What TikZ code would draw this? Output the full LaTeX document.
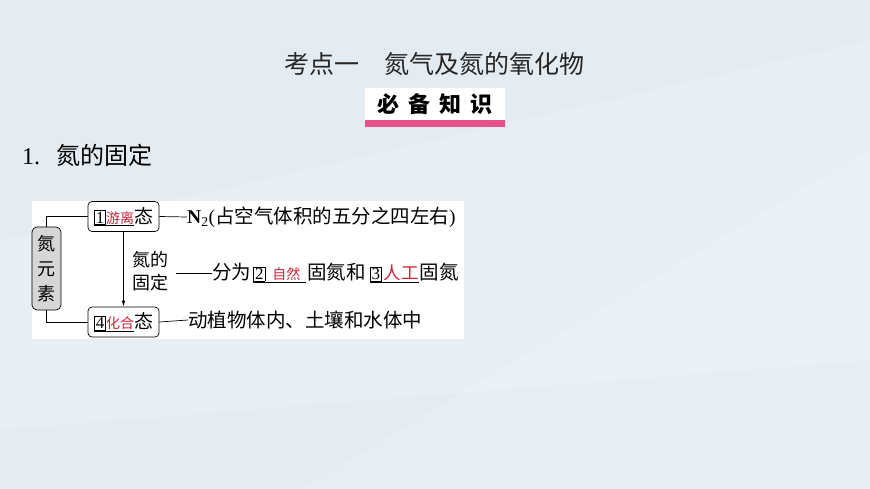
\documentclass[tikz,border=0pt]{standalone}
\usepackage{fontspec}
\usepackage[svgnames]{xcolor}
\usepackage{tikz}
\usetikzlibrary{calc}
\usetikzlibrary{arrows.meta}
\newfontfamily\cjk{Noto Sans CJK SC}
\newfontfamily\numfont{Liberation Serif}
\definecolor{bgbase}{RGB}{228,236,242}
\definecolor{ansred}{RGB}{205,35,55}
\definecolor{barpink}{RGB}{228,82,140}
\definecolor{elemgray}{RGB}{214,214,214}
\newcommand{\numbox}[1]{{\setlength{\fboxsep}{1pt}\setlength{\fboxrule}{0.8pt}%
  \fbox{\numfont\fontsize{17}{17}\selectfont#1}}}
\newcommand{\blankans}[3]{{\setbox0=\hbox{\numbox{#1}\textcolor{ansred}{\fontsize{#2}{#2}\selectfont #3}}%
  \rlap{\raisebox{-3pt}{\rule{\wd0}{0.6pt}}}\box0}}

\begin{document}
\begin{tikzpicture}[x=1pt,y=-1pt,
    font=\cjk,inner sep=0pt,
    stateb/.style={draw=black,line width=0.7pt,rounded corners=4pt,fill=white,
      minimum width=71pt,minimum height=30pt,font=\cjk\fontsize{19}{19}\selectfont},
    elemb/.style={draw=black,line width=0.7pt,rounded corners=5pt,fill=elemgray,
      minimum width=29pt,minimum height=83pt,align=center,font=\cjk\fontsize{18}{25}\selectfont},
    txtn/.style={anchor=west,font=\cjk\fontsize{19.5}{19.5}\selectfont},
    link/.style={draw=black,line width=0.7pt}]
  \useasboundingbox (0,0) rectangle (870,489);
  \fill[bgbase] (0,0) rectangle (870,489);
  \fill[white,opacity=0.18] (0,240) -- (870,40) -- (870,360) -- (0,430) -- cycle;
  \fill[white,opacity=0.12] (300,489) -- (870,150) -- (870,489) -- cycle;
  \fill[white] (32,201) rectangle (464,339);

  \node[font=\cjk\fontsize{25}{25}\selectfont,text=black!85] (title) at (434,64)
    {考点一\hspace{1em}氮气及氮的氧化物};
  \node[fill=white,minimum width=140pt,minimum height=32pt,
    font=\cjk\bfseries\fontsize{22}{22}\selectfont] (badge) at (435,104)
    {必\hspace{9pt}备\hspace{9pt}知\hspace{9pt}识};
  \fill[barpink] (badge.south west) rectangle ([yshift=-7pt]badge.south east);
  \node[anchor=west,font=\cjk\fontsize{24}{24}\selectfont] (heading) at (22,155)
    {{\numfont 1.}\hspace{16pt}氮的固定};

  \node[elemb] (elem) at (46.5,268.5) {氮\\元\\素};
  \node[stateb] (free) at (123.5,216.5) {\blankans{1}{14}{游离}态};
  \node[stateb] (comb) at (123.5,322) {\blankans{4}{14}{化合}态};
  \node[font=\cjk\fontsize{18}{23}\selectfont,align=center] (fix) at (150,271.5) {氮的\\固定};
  \node[txtn] (freetxt) at (187,217)
    {{\numfont\bfseries N}{\numfont\textsubscript{2}(}占空气体积的五分之四左右{\numfont )}};
  \node[txtn] (fixtxt) at (212,273)
    {分为\hspace{2pt}\blankans{2}{14}{\hspace{7pt}自然\hspace{6pt}}\hspace{1pt}固氮和\hspace{4pt}\blankans{3}{17.5}{\hspace{2pt}人工}\hspace{1pt}固氮};
  \node[txtn] (combtxt) at (188,320) {动植物体内、土壤和水体中};

  \draw[link] (elem.north) |- (free.west);
  \draw[link] (elem.south) |- (comb.west);
  \draw[link,-{Latex[length=6pt,width=3.5pt]}] (free.south) -- (comb.north);
  \draw[link] (free.east) -- (freetxt.west);
  \draw[link] (comb.east) -- (combtxt.west);
  \draw[link,shorten <=8pt] (fix.east |- fixtxt.west) -- (fixtxt.west);
\end{tikzpicture}
\end{document}
